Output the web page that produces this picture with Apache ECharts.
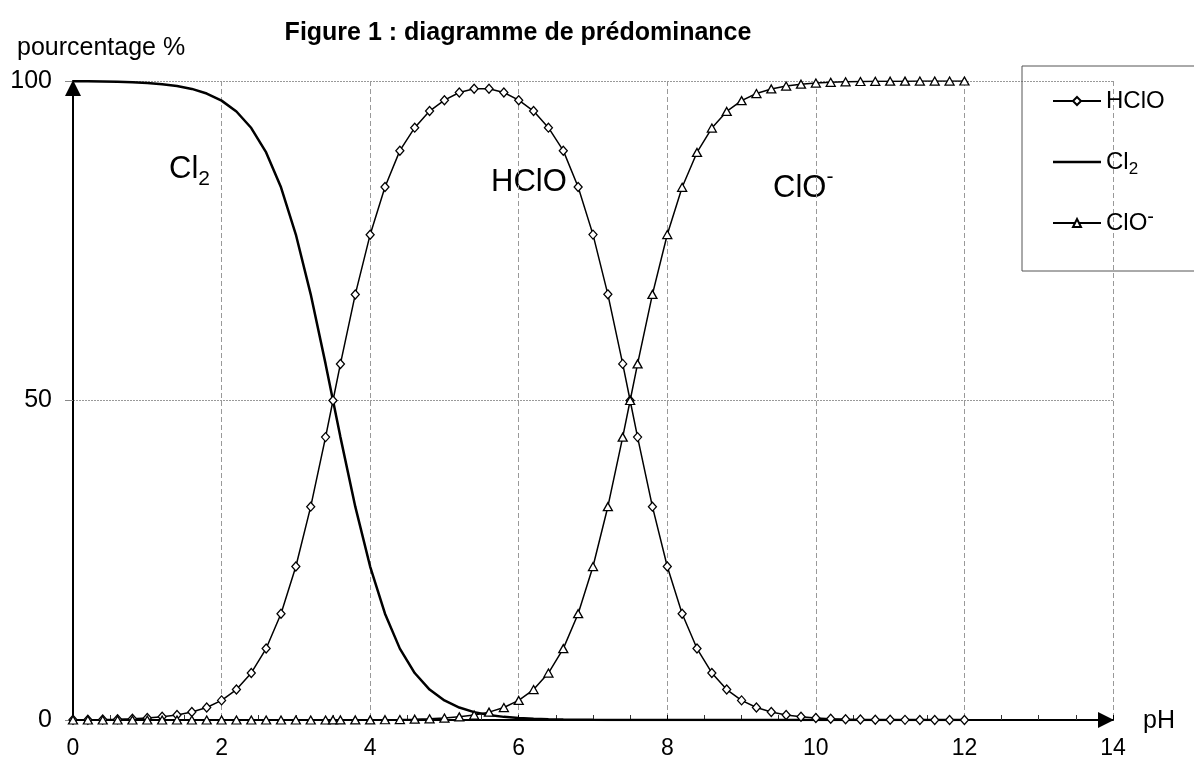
<!DOCTYPE html>
<html>
<head>
<meta charset="utf-8">
<script src="https://cdn.jsdelivr.net/npm/echarts@6/dist/echarts.min.js"></script>
<style>
  html, body { margin: 0; padding: 0; background: #fff; }
  #chart { width: 1194px; height: 760px; }
</style>
</head>
<body>
<div id="chart"></div>
<script>
// pH values (x)
const pH = [0,0.2,0.4,0.6,0.8,1,1.2,1.4,1.6,1.8,2,2.2,2.4,2.6,2.8,3,3.2,3.4,3.5,3.6,3.8,4,4.2,4.4,4.6,4.8,5,5.2,5.4,5.6,5.8,6,6.2,6.4,6.6,6.8,7,7.2,7.4,7.5,7.6,7.8,8,8.2,8.4,8.6,8.8,9,9.2,9.4,9.6,9.8,10,10.2,10.4,10.6,10.8,11,11.2,11.4,11.6,11.8,12];
// percentages
const hclo = [0.03,0.05,0.08,0.13,0.20,0.32,0.50,0.79,1.24,1.96,3.07,4.77,7.36,11.18,16.63,24.03,33.39,44.27,50.00,55.72,66.60,75.95,83.40,89.10,92.70,95.30,97.00,98.20,98.80,98.80,98.20,97.00,95.30,92.70,89.10,83.40,75.96,66.61,55.73,50.00,44.27,33.39,24.03,16.63,11.18,7.36,4.77,3.07,1.96,1.24,0.79,0.50,0.32,0.20,0.13,0.08,0.05,0.03,0.02,0.01,0.01,0.01,0.00];
const cl2 = [99.97,99.95,99.92,99.87,99.80,99.68,99.50,99.21,98.76,98.04,96.93,95.23,92.64,88.82,83.37,75.97,66.61,55.73,50.00,44.27,33.39,24.02,16.63,11.17,7.35,4.76,3.06,1.95,1.23,0.78,0.49,0.31,0.19,0.12,0.07,0.04,0.02,0.01,0.01,0.01,0,0,0,0,0,0,0,0,0,0,0,0,0,0,0,0,0,0,0,0,0,0,0];
const clo = [0,0,0,0,0,0,0,0,0,0,0,0,0,0,0,0,0,0,0.01,0.01,0.01,0.02,0.04,0.07,0.12,0.19,0.31,0.49,0.78,1.23,1.95,3.06,4.76,7.35,11.17,16.63,24.02,33.38,44.27,50.00,55.73,66.61,75.97,83.37,88.82,92.64,95.23,96.93,98.04,98.76,99.21,99.50,99.68,99.80,99.87,99.92,99.95,99.97,99.98,99.99,99.99,99.99,100.00];
const seriesNames = ['HClO', 'Cl2', 'ClO-'];
const xTicks = { min: 0, max: 14, step: 2 };
const yTicks = { min: 0, max: 100, step: 50 };

const FONT = 'Liberation Sans, Arial, sans-serif';
const rich = {
  s: { fontSize: 17, lineHeight: 16, verticalAlign: 'bottom', fontFamily: FONT, color: '#000' },
  p: { fontSize: 20, lineHeight: 14, verticalAlign: 'top', fontFamily: FONT, color: '#000' }
};
function fmt(name) {
  if (name === 'Cl2') return 'Cl{s|2}';
  if (name === 'ClO-') return 'ClO{p|-}';
  return name;
}
const chart = echarts.init(document.getElementById('chart'), null, { renderer: 'canvas' });
const zip = arr => pH.map((x, i) => [x, arr[i]]);

chart.setOption({
  animation: false,
  backgroundColor: '#fff',
  grid: { left: 73, right: 81, top: 81, bottom: 39, containLabel: false },
  xAxis: {
    type: 'value', min: xTicks.min, max: xTicks.max, interval: xTicks.step,
    axisLine: { show: true, onZero: false, lineStyle: { color: '#000', width: 2 },
      symbol: ['none', 'triangle'], symbolSize: [16, 16], symbolOffset: [0, -7] },
    axisTick: { show: true, inside: true, length: 5, lineStyle: { color: '#000', width: 1 } },
    minorTick: { show: true, splitNumber: 4, length: 5, lineStyle: { color: '#333', width: 1 } },
    splitLine: { show: true, lineStyle: { color: '#999', width: 1, type: [5, 3] } },
    axisLabel: { fontSize: 23, color: '#000', margin: 17, fontFamily: FONT }
  },
  yAxis: {
    type: 'value', min: yTicks.min, max: yTicks.max, interval: yTicks.step,
    axisLine: { show: true, onZero: false, lineStyle: { color: '#000', width: 2 },
      symbol: ['none', 'triangle'], symbolSize: [16, 16], symbolOffset: [0, -7] },
    axisTick: { show: true, length: 8, lineStyle: { color: '#888', width: 1 } },
    splitLine: { show: true, lineStyle: { color: '#999', width: 1, type: [2, 1] } },
    axisLabel: { fontSize: 25, color: '#000', margin: 21, fontFamily: FONT }
  },
  legend: {
    orient: 'vertical', left: 1022, top: 66,
    data: [
      { name: 'HClO' },
      { name: 'Cl2', icon: 'path://M0,0 L48,0 L48,2.5 L0,2.5 Z' },
      { name: 'ClO-' }
    ],
    borderColor: '#555', borderWidth: 1,
    padding: [19, 80, 32, 30],
    itemWidth: 48, itemHeight: 10, itemGap: 29,
    formatter: fmt,
    textStyle: { fontSize: 24, lineHeight: 32, color: '#000', fontFamily: FONT, rich: rich }
  },
  graphic: [
    { type: 'text', x: 518, y: 33, style: { text: 'Figure 1 : diagramme de prédominance', font: 'bold 25px ' + FONT, fill: '#000', align: 'center', verticalAlign: 'middle' } },
    { type: 'text', x: 17, y: 48, style: { text: 'pourcentage %', font: '25px ' + FONT, fill: '#000', align: 'left', verticalAlign: 'middle' } },
    { type: 'text', x: 1143, y: 721, style: { text: 'pH', font: '25px ' + FONT, fill: '#000', align: 'left', verticalAlign: 'middle' } },
    { type: 'text', left: 169, top: 148, style: { text: 'Cl{s|2}', font: '31px ' + FONT, fill: '#000', lineHeight: 42,
        rich: { s: { fontSize: 21, lineHeight: 20, verticalAlign: 'bottom', fontFamily: FONT, fill: '#000' } } } },
    { type: 'text', left: 491, top: 161, style: { text: 'HClO', font: '31px ' + FONT, fill: '#000', lineHeight: 42 } },
    { type: 'text', left: 773, top: 167, style: { text: 'ClO{p|-}', font: '31px ' + FONT, fill: '#000', lineHeight: 42,
        rich: { p: { fontSize: 21, lineHeight: 16, verticalAlign: 'top', fontFamily: FONT, fill: '#000' } } } }
  ],
  series: [
    { name: 'HClO', type: 'line', data: zip(hclo), symbol: 'diamond', symbolSize: [8, 9],
      itemStyle: { color: '#fff', borderColor: '#000', borderWidth: 1.3 },
      lineStyle: { color: '#000', width: 1.5 }, z: 3 },
    { name: 'Cl2', type: 'line', data: zip(cl2), symbol: 'none', showSymbol: false,
      itemStyle: { color: '#000' },
      lineStyle: { color: '#000', width: 2.5 }, z: 2 },
    { name: 'ClO-', type: 'line', data: zip(clo), symbol: 'triangle', symbolSize: [9, 8],
      itemStyle: { color: '#fff', borderColor: '#000', borderWidth: 1.3 },
      lineStyle: { color: '#000', width: 1.5 }, z: 3 }
  ]
});
</script>
</body>
</html>
